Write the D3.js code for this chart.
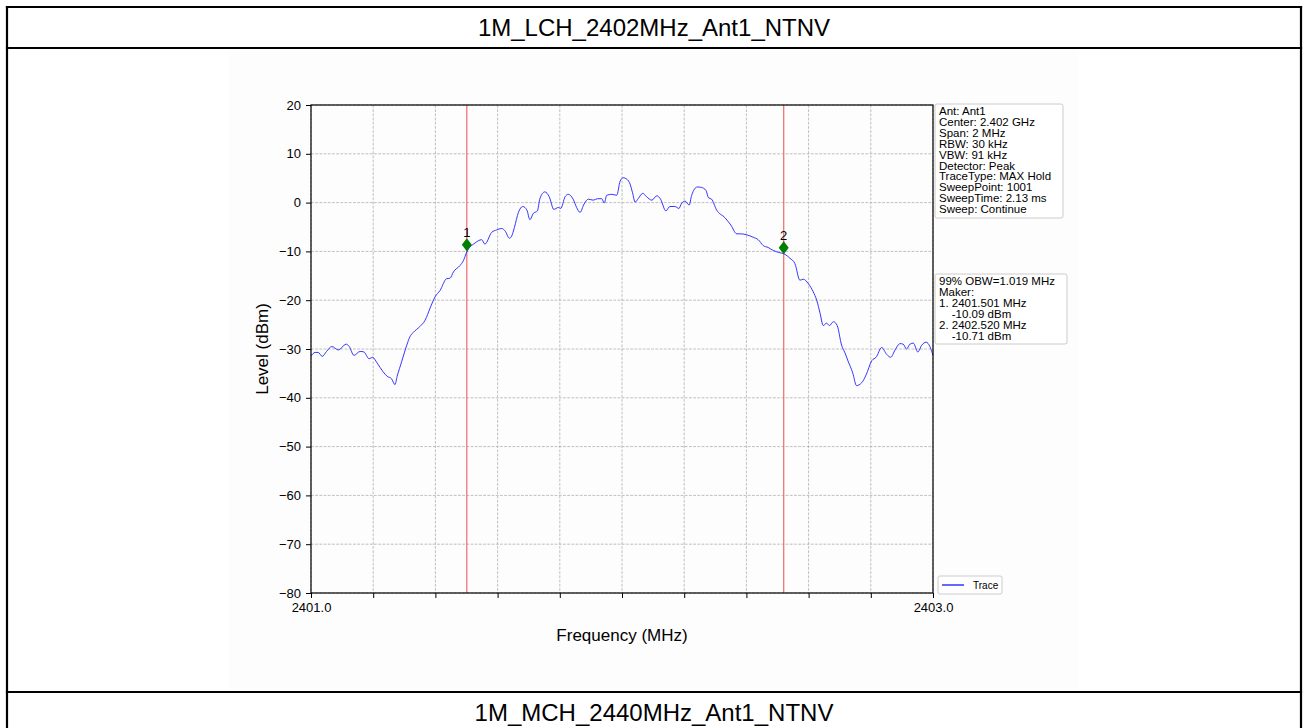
<!DOCTYPE html>
<html>
<head>
<meta charset="utf-8">
<script src="https://cdn.jsdelivr.net/npm/d3@7"></script>
<style>
  body { margin: 0; background: #fff; }
  svg { display: block; font-family: "Liberation Sans", Arial, sans-serif; }
</style>
</head>
<body>
<svg id="chart" width="1308" height="728"></svg>
<script>
const titleTop = "1M_LCH_2402MHz_Ant1_NTNV";
const titleNext = "1M_MCH_2440MHz_Ant1_NTNV";

const freq = [
  2401.000, 2401.013, 2401.023, 2401.036, 2401.050, 2401.067, 2401.088, 2401.113, 2401.123, 2401.138,
  2401.158, 2401.170, 2401.187, 2401.198, 2401.213, 2401.231, 2401.245, 2401.259, 2401.270, 2401.277,
  2401.292, 2401.308, 2401.318, 2401.329, 2401.350, 2401.367, 2401.383, 2401.399, 2401.415, 2401.436,
  2401.447, 2401.458, 2401.479, 2401.490, 2401.501, 2401.527, 2401.549, 2401.559, 2401.581, 2401.597,
  2401.613, 2401.624, 2401.638, 2401.645, 2401.654, 2401.667, 2401.681, 2401.694, 2401.704, 2401.715,
  2401.728, 2401.736, 2401.752, 2401.766, 2401.781, 2401.795, 2401.803, 2401.817, 2401.827, 2401.843,
  2401.854, 2401.865, 2401.878, 2401.892, 2401.908, 2401.921, 2401.935, 2401.943, 2401.951, 2401.967,
  2401.983, 2401.994, 2402.004, 2402.010, 2402.024, 2402.034, 2402.042, 2402.052, 2402.067, 2402.079,
  2402.096, 2402.112, 2402.124, 2402.141, 2402.154, 2402.170, 2402.183, 2402.192, 2402.203, 2402.216,
  2402.224, 2402.242, 2402.256, 2402.270, 2402.278, 2402.288, 2402.304, 2402.331, 2402.350, 2402.369,
  2402.382, 2402.401, 2402.422, 2402.438, 2402.454, 2402.470, 2402.486, 2402.503, 2402.524, 2402.540,
  2402.556, 2402.572, 2402.583, 2402.599, 2402.615, 2402.626, 2402.637, 2402.647, 2402.658, 2402.667,
  2402.680, 2402.692, 2402.706, 2402.717, 2402.727, 2402.742, 2402.754, 2402.771, 2402.785, 2402.803,
  2402.817, 2402.835, 2402.851, 2402.864, 2402.878, 2402.894, 2402.904, 2402.915, 2402.926, 2402.937,
  2402.951, 2402.964, 2402.978, 2402.990, 2403.000
];
const level = [
  -31.5, -30.7, -30.7, -31.5, -30.5, -29.5, -30.2, -29.0, -29.5, -31.3,
  -30.5, -30.6, -32.0, -31.7, -32.9, -34.6, -35.6, -36.1, -37.3, -35.6,
  -32.5, -29.2, -27.5, -26.6, -25.4, -24.1, -21.6, -19.3, -18.0, -15.6,
  -15.5, -14.2, -12.9, -11.9, -10.1, -8.3, -7.6, -8.5, -6.1, -5.6,
  -5.3, -5.8, -7.3, -6.9, -5.1, -2.0, -0.8, -1.5, -3.5, -2.2,
  -1.7, 0.8, 2.2, 1.2, -1.4, -1.0, -1.2, 1.2, 1.7, 0.7,
  -1.0, -2.0, -0.3, 0.7, 0.5, 0.8, 0.8, -0.1, 1.5, 1.7,
  1.5, 4.4, 5.1, 5.0, 4.1, 2.0, 0.1, 0.8, 1.9, 1.2,
  0.5, 1.4, 0.7, -1.7, -0.8, -0.8, -1.2, -0.1, 0.3, -0.5,
  1.5, 3.2, 3.1, 2.5, 1.0, 0.7, -1.5, -3.1, -4.6, -6.4,
  -6.4, -6.6, -7.1, -7.6, -8.8, -9.2, -9.8, -10.2, -10.6, -11.4,
  -12.5, -15.9, -15.7, -16.6, -18.3, -20.0, -22.7, -25.2, -24.7, -25.2,
  -24.4, -25.2, -29.2, -30.8, -32.5, -34.9, -37.5, -36.9, -35.3, -32.4,
  -31.7, -29.7, -31.1, -31.7, -30.2, -28.9, -29.0, -30.0, -29.0, -28.8,
  -30.6, -29.2, -28.6, -29.5, -31.3
];

const yTicks = [20, 10, 0, -10, -20, -30, -40, -50, -60, -70, -80];
const xTicks = [2401.0, 2401.2, 2401.4, 2401.6, 2401.8, 2402.0, 2402.2, 2402.4, 2402.6, 2402.8, 2403.0];
const xTickLabels = ["2401.0", "", "", "", "", "", "", "", "", "", "2403.0"];

const markerFreq = [2401.501, 2402.520];
const markerLevel = [-10.09, -10.71];
const markerNames = ["1", "2"];

const infoLines = ["Ant: Ant1", "Center: 2.402 GHz", "Span: 2 MHz", "RBW: 30 kHz", "VBW: 91 kHz",
  "Detector: Peak", "TraceType: MAX Hold", "SweepPoint: 1001", "SweepTime: 2.13 ms", "Sweep: Continue"];
const obwLines = ["99% OBW=1.019 MHz", "Maker:", "1. 2401.501 MHz", "    -10.09 dBm", "2. 2402.520 MHz", "    -10.71 dBm"];
const legendLabels = ["Trace"];

const svg = d3.select("#chart");

// ---- table frame ----
const tbl = svg.append("g");
tbl.append("rect").attr("x", 229).attr("y", 50).attr("width", 850).attr("height", 640).attr("fill", "#fdfdfd");
const bw = 2.2;
[[7, 7, 1301, 7], [7, 48, 1301, 48], [7, 692, 1301, 692], [7, 7, 7, 728], [1301, 7, 1301, 728]].forEach(l => {
  tbl.append("line").attr("x1", l[0]).attr("y1", l[1]).attr("x2", l[2]).attr("y2", l[3])
    .attr("stroke", "#000").attr("stroke-width", bw).attr("stroke-linecap", "square");
});
tbl.append("text").attr("x", 654).attr("y", 36).attr("text-anchor", "middle")
  .attr("font-size", 24).attr("fill", "#000").text(titleTop);
tbl.append("text").attr("x", 654).attr("y", 721).attr("text-anchor", "middle")
  .attr("font-size", 24).attr("fill", "#000").text(titleNext);

// ---- plot ----
const x = d3.scaleLinear().domain([2401, 2403]).range([311, 933]);
const y = d3.scaleLinear().domain([-80, 20]).range([593, 105]);

const grid = svg.append("g");
grid.selectAll("line.gy").data(yTicks).join("line")
  .attr("x1", x(2401)).attr("x2", x(2403)).attr("y1", d => y(d)).attr("y2", d => y(d))
  .attr("stroke", "#b0b0b0").attr("stroke-width", 0.8).attr("stroke-dasharray", "2.8,1.4");
grid.selectAll("line.gx").data(xTicks).join("line")
  .attr("x1", d => x(d)).attr("x2", d => x(d)).attr("y1", y(20)).attr("y2", y(-80))
  .attr("stroke", "#b0b0b0").attr("stroke-width", 0.8).attr("stroke-dasharray", "2.8,1.4");

// marker lines
svg.selectAll("line.mk").data(markerFreq).join("line")
  .attr("x1", d => x(d)).attr("x2", d => x(d)).attr("y1", y(20)).attr("y2", y(-80))
  .attr("stroke", "#f06a6a").attr("stroke-width", 1.2);

// trace
const pts = freq.map((f, i) => [f, level[i]]);
const line = d3.line().x(d => x(d[0])).y(d => y(d[1])).curve(d3.curveMonotoneX);
svg.append("path").attr("d", line(pts)).attr("fill", "none")
  .attr("stroke", "#1f1fff").attr("stroke-width", 0.9);

// markers
markerFreq.forEach((f, i) => {
  const cx = x(f), cy = y(markerLevel[i]) - 7;
  svg.append("path").attr("d", "M0,-6.5L5,0L0,6.5L-5,0Z").attr("transform", `translate(${cx},${cy})`)
    .attr("fill", "#008000");
  svg.append("text").attr("x", cx).attr("y", cy - 8).attr("text-anchor", "middle")
    .attr("font-size", 13).attr("fill", "#000").text(markerNames[i]);
});

// axes
const fmt = d => (d < 0 ? "\u2212" + Math.abs(d) : String(d));
const gy = svg.append("g").attr("transform", `translate(${x(2401)},0)`)
  .call(d3.axisLeft(y).tickValues(yTicks).tickSize(5).tickPadding(5).tickFormat(fmt));
const gx = svg.append("g").attr("transform", `translate(0,${y(-80)})`)
  .call(d3.axisBottom(x).tickValues(xTicks).tickSize(5).tickPadding(5).tickFormat((d, i) => xTickLabels[i]));
[gx, gy].forEach(g => {
  g.select(".domain").remove();
  g.selectAll(".tick line").attr("stroke", "#000").attr("stroke-width", 1);
  g.selectAll(".tick text").attr("font-size", 13).attr("fill", "#000")
    .attr("font-family", "'Liberation Sans', Arial, sans-serif");
});

// frame
svg.append("rect").attr("x", x(2401)).attr("y", y(20)).attr("width", x(2403) - x(2401)).attr("height", y(-80) - y(20))
  .attr("fill", "none").attr("stroke", "#000").attr("stroke-width", 1.2);

// axis labels
svg.append("text").attr("x", 622).attr("y", 641).attr("text-anchor", "middle")
  .attr("font-size", 17).attr("fill", "#000").text("Frequency (MHz)");
svg.append("text").attr("transform", "translate(268,349) rotate(-90)").attr("text-anchor", "middle")
  .attr("font-size", 17).attr("fill", "#000").text("Level (dBm)");

// info boxes
function infoBox(lines, bx, by, w, h) {
  const g = svg.append("g");
  g.append("rect").attr("x", bx).attr("y", by).attr("width", w).attr("height", h).attr("rx", 2)
    .attr("fill", "#fff").attr("stroke", "#cccccc").attr("stroke-width", 1);
  g.selectAll("text").data(lines).join("text")
    .attr("x", bx + 4).attr("y", (d, i) => by + 11 + i * 10.9)
    .attr("font-size", 11.5).attr("fill", "#000").attr("xml:space", "preserve")
    .style("white-space", "pre").text(d => d);
}
infoBox(infoLines, 935, 104, 128, 114);
infoBox(obwLines, 935, 274, 132, 70);

// legend
const lg = svg.append("g");
lg.append("rect").attr("x", 938).attr("y", 576).attr("width", 64).attr("height", 18).attr("rx", 2)
  .attr("fill", "#fff").attr("stroke", "#cccccc").attr("stroke-width", 1);
lg.append("line").attr("x1", 942).attr("x2", 964).attr("y1", 585).attr("y2", 585)
  .attr("stroke", "#0000ff").attr("stroke-width", 1.2);
lg.selectAll("text").data(legendLabels).join("text").attr("x", 973).attr("y", 589)
  .attr("font-size", 10).attr("fill", "#000").text(d => d);
</script>
</body>
</html>
